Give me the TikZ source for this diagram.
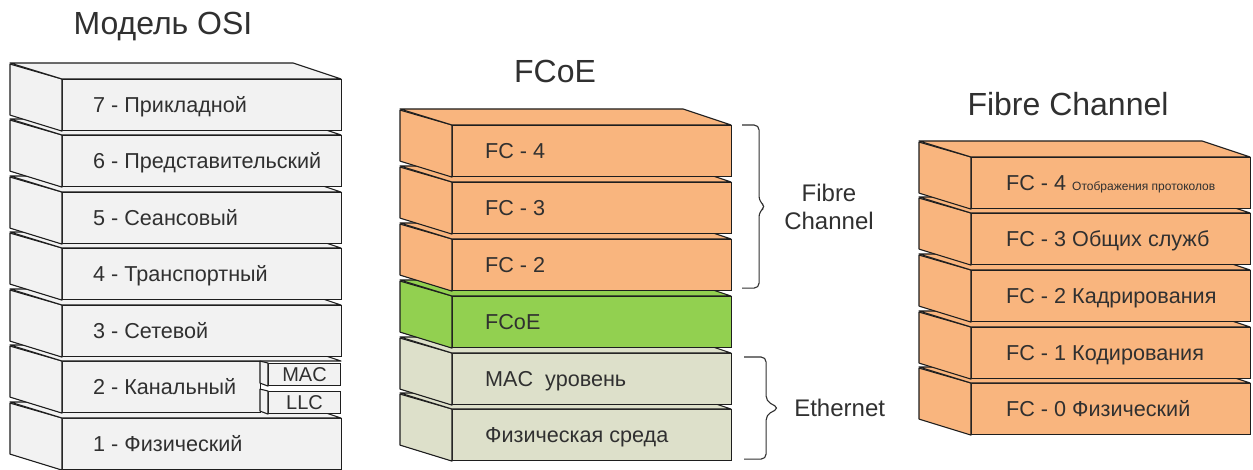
\documentclass[tikz,border=0pt]{standalone}
\usepackage{fontspec}
\setmainfont{Liberation Sans}
\usetikzlibrary{positioning,calc}

\definecolor{osigrey}{HTML}{F2F2F2}
\definecolor{fcorange}{HTML}{F9B57E}
\definecolor{fcoegreen}{HTML}{92D050}
\definecolor{ethgrey}{HTML}{DDE0CA}
\definecolor{edge}{HTML}{1E1E1E}
\definecolor{ink}{HTML}{303030}

\begin{document}
\begin{tikzpicture}[x=1pt, y=-1pt,
    front/.style={draw=edge, line width=1.1pt, minimum width=279pt, minimum height=51pt, anchor=north west, inner sep=0pt},
    face/.style={draw=edge, line width=1.1pt, line join=round},
    lbl/.style={anchor=west, inner sep=0pt, text=ink, text height=15pt, text depth=0pt, font=\fontsize{21.6}{24}\selectfont},
    title/.style={anchor=base, inner sep=0pt, text=ink, font=\fontsize{32}{36}\selectfont},
    bracket/.style={draw=ink, line width=1.1pt, rounded corners=5pt},
    side/.style={text=ink, inner sep=0pt, align=center, anchor=west, font=\fontsize{24}{28}\selectfont}]
    \useasboundingbox (0,0) rectangle (1253,470);

    % Titles
    \node[title] (tosi) at (163,35) {Модель OSI};
    \node[title] (tfcoe) at (555,83) {FCoE};
    \node[title] (tfc) at (1068,116) {Fibre Channel};

    % OSI model, drawn from the bottom layer up
    \foreach \n/\y/\w/\txt in {1/418/279/{1 - Физический}, 2/361/198/{2 - Канальный},
        3/305/279/{3 - Сетевой}, 4/248/279/{4 - Транспортный}, 5/192/279/{5 - Сеансовый},
        6/135/279/{6 - Представительский}, 7/79/279/{7 - Прикладной}} {
        \node[front, fill=osigrey, minimum width=\w pt] (osi\n) at (62,\y) {};
        \filldraw[face, fill=osigrey] (osi\n.north west) -- (osi\n.south west) -- ++(-52,-16) -- ++(0,-51) -- cycle;
        \filldraw[face, fill=osigrey] (osi\n.north west) -- ++(-52,-16) -- ++(283,0) -- ++(48,16) -- cycle;
        \node[lbl] (osit\n) at ([xshift=31pt]osi\n.west) {\txt};
    }

    % MAC and LLC sublayers
    \foreach \n/\y in {MAC/363, LLC/391} {
        \node[front, fill=osigrey, minimum width=72pt, minimum height=22pt, text=ink,
            text height=14pt, text depth=0pt, font=\fontsize{20}{22}\selectfont] (\n) at (268,\y) {\n};
        \filldraw[face, fill=osigrey] (\n.north west) -- (\n.south west) -- ++(-8,-3) -- ++(0,-22) -- cycle;
    }

    % FCoE stack
    \foreach \n/\y/\col/\txt in {1/409/ethgrey/{Физическая среда}, 2/353/ethgrey/{MAC~~уровень},
        3/296/fcoegreen/{FCoE}, 4/239/fcorange/{FC - 2}, 5/182/fcorange/{FC - 3}, 6/125/fcorange/{FC - 4}} {
        \node[front, fill=\col] (fcoe\n) at (452,\y) {};
        \filldraw[face, fill=\col] (fcoe\n.north west) -- (fcoe\n.south west) -- ++(-52,-16) -- ++(0,-51) -- cycle;
        \filldraw[face, fill=\col] (fcoe\n.north west) -- ++(-52,-16) -- ++(283,0) -- ++(48,16) -- cycle;
        \node[lbl] (fcoet\n) at ([xshift=33pt]fcoe\n.west) {\txt};
    }

    % Fibre Channel stack
    \foreach \n/\y/\txt in {0/383/{FC - 0 Физический}, 1/327/{FC - 1 Кодирования},
        2/270/{FC - 2 Кадрирования}, 3/213/{FC - 3 Общих служб},
        4/157/{FC - 4 {\fontsize{12}{13}\selectfont Отображения протоколов}}} {
        \node[front, fill=fcorange] (fc\n) at (971,\y) {};
        \filldraw[face, fill=fcorange] (fc\n.north west) -- (fc\n.south west) -- ++(-52,-16) -- ++(0,-51) -- cycle;
        \filldraw[face, fill=fcorange] (fc\n.north west) -- ++(-52,-16) -- ++(283,0) -- ++(48,16) -- cycle;
        \node[lbl] (fct\n) at ([xshift=35pt]fc\n.west) {\txt};
    }

    % Braces
    \coordinate (fcTop) at ([xshift=10pt]fcoe6.north east);
    \coordinate (fcBot) at ([xshift=10pt,yshift=3pt]fcoe4.south east);
    \coordinate (fcTip) at ($(fcTop)!0.5!(fcBot)+(24,0)$);
    \draw[bracket] (fcTop) -- ($(fcTop)+(17,0)$) -- ($(fcTip)+(-7,-5)$) -- (fcTip)
        -- ($(fcTip)+(-7,5)$) -- ($(fcBot)+(17,0)$) -- (fcBot);
    \node[side] (lfc) at ($(fcTip)+(18,0)$) {Fibre\\Channel};

    \coordinate (ethTop) at ([xshift=12pt,yshift=-4pt]fcoe2.north east);
    \coordinate (ethBot) at ([xshift=12pt,yshift=2pt]fcoe1.south east);
    \coordinate (ethTip) at ($(ethTop)!0.5!(ethBot)+(35,0)$);
    \draw[bracket] (ethTop) -- ($(ethTop)+(22,0)$) -- ($(ethTip)+(-13,-7)$) -- (ethTip)
        -- ($(ethTip)+(-13,7)$) -- ($(ethBot)+(22,0)$) -- (ethBot);
    \node[side] (leth) at ($(ethTip)+(15,0)$) {Ethernet};
\end{tikzpicture}
\end{document}
